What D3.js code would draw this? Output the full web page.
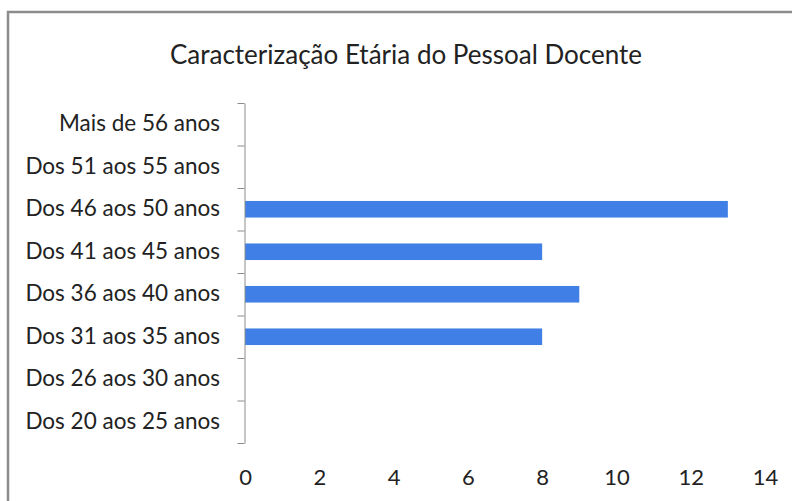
<!DOCTYPE html>
<meta charset="utf-8">
<style>
  body { margin: 0; background: #fff; }
  text { font-family: Lato, "Open Sans", sans-serif; fill: #222; }
</style>
<script src="https://cdn.jsdelivr.net/npm/d3@7"></script>
<div id="chart"></div>
<script>
// age groups, bottom to top as drawn
var categories = ["Dos 20 aos 25 anos", "Dos 26 aos 30 anos", "Dos 31 aos 35 anos",
                  "Dos 36 aos 40 anos", "Dos 41 aos 45 anos", "Dos 46 aos 50 anos",
                  "Dos 51 aos 55 anos", "Mais de 56 anos"];
var values = [0, 0, 8, 9, 8, 13, 0, 0];
var xTicks = [0, 2, 4, 6, 8, 10, 12, 14];
var title = "Caracterização Etária do Pessoal Docente";

var W = 792, H = 501;
var plotLeft = 245, plotRight = 765, plotTop = 103, plotBottom = 443;

var svg = d3.select("#chart").append("svg")
    .attr("width", W)
    .attr("height", H);

// outer chart frame
svg.append("rect")
    .attr("x", 8).attr("y", 12)
    .attr("width", W + 20).attr("height", H + 20)
    .attr("fill", "#fff")
    .attr("stroke", "#8c8c8c")
    .attr("stroke-width", 2.5);

svg.append("text")
    .attr("x", 406).attr("y", 64)
    .attr("text-anchor", "middle")
    .style("font-size", "26px")
    .text(title);

var x = d3.scaleLinear()
    .domain([0, 14])
    .range([plotLeft, plotRight]);

var y = d3.scaleBand()
    .domain(categories)
    .range([plotBottom, plotTop])
    .paddingInner(0.61)
    .paddingOuter(0.305);

// bars
svg.selectAll("rect.bar")
  .data(values)
  .enter().append("rect")
    .attr("class", "bar")
    .attr("x", x(0))
    .attr("y", function(d, i) { return y(categories[i]); })
    .attr("width", function(d) { return x(d) - x(0); })
    .attr("height", y.bandwidth())
    .attr("fill", "#3f7fe6");

// y axis line with ticks between categories
var idx = d3.scaleLinear().domain([0, categories.length]).range([plotBottom, plotTop]);
var yAxis = svg.append("g")
    .attr("transform", "translate(" + (plotLeft - 0.5) + ",0)")
    .call(d3.axisLeft(idx).ticks(categories.length).tickFormat("").tickSize(7).tickSizeOuter(0));
yAxis.selectAll("path, line").attr("stroke", "#8c8c8c");

// category labels
svg.append("g")
    .attr("transform", "translate(" + (plotLeft - 25) + ",0)")
    .call(d3.axisLeft(y).tickSize(0).tickPadding(0))
    .call(function(g) { g.select(".domain").remove(); })
    .selectAll("text")
      .style("font-size", "22.5px")
      .style("fill", "#222")
      .attr("dy", "0.32em");

// x tick labels (no axis line drawn)
svg.append("g")
    .attr("transform", "translate(0," + 478 + ")")
    .call(d3.axisBottom(x).tickValues(xTicks).tickSize(0).tickPadding(0))
    .call(function(g) { g.select(".domain").remove(); })
    .selectAll("text")
      .style("font-size", "22px")
      .style("fill", "#222")
      .attr("dy", "0.32em");
</script>
